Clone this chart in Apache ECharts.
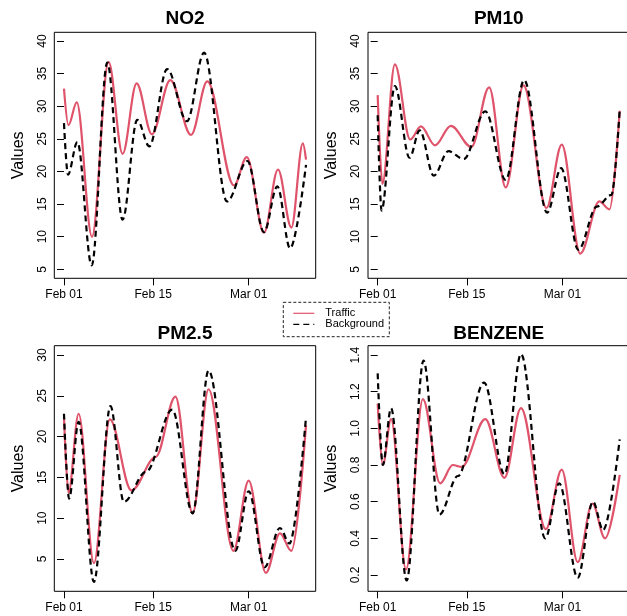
<!DOCTYPE html>
<html>
<head>
<meta charset="utf-8">
<script src="https://cdn.jsdelivr.net/npm/echarts@6/dist/echarts.min.js"></script>
<style>
  html, body { margin: 0; padding: 0; background: #fff; }
  #chart { width: 627px; height: 616px; }
</style>
</head>
<body>
<div id="chart"></div>
<script>
// panels and axes
const panels = ['NO2', 'PM10', 'PM2.5', 'BENZENE']
const xTickDays = [0, 14, 29]          // days since Feb 01
const xTickLabels = ['Feb 01', 'Feb 15', 'Mar 01']
const yTicksNO2 = [5, 10, 15, 20, 25, 30, 35, 40]
const yTicksPM10 = [5, 10, 15, 20, 25, 30, 35, 40]
const yTicksPM25 = [5, 10, 15, 20, 25, 30]
const yTicksBenzene = [0.2, 0.4, 0.6, 0.8, 1.0, 1.2, 1.4]

// NO2
const no2TrafficDays = [0, 0.7, 2.0, 4.4, 7.0, 9.2, 11.4, 13.8, 16.7, 19.95, 22.5, 26.7, 28.7, 31.4, 33.6, 35.7, 37.5, 38]
const no2TrafficVals = [32.7, 27.1, 30.6, 10.0, 36.8, 22.7, 33.5, 25.7, 34.0, 25.6, 33.8, 17.85, 22.2, 10.6, 20.3, 11.4, 24.3, 21.8]
const no2BackgroundDays = [0, 0.62, 2.1, 4.35, 6.8, 9.2, 11.5, 13.4, 16.2, 19.3, 22.0, 25.6, 28.8, 31.4, 33.5, 35.5, 38]
const no2BackgroundVals = [27.4, 19.5, 24.5, 5.6, 36.7, 12.6, 27.9, 23.85, 35.7, 27.7, 38.2, 15.4, 21.6, 10.7, 17.7, 8.2, 21.0]

// PM10
const pm10TrafficDays = [0, 0.73, 2.7, 5.1, 6.8, 9.0, 11.5, 14.7, 17.5, 20.1, 22.9, 26.5, 28.9, 31.8, 34.8, 36.4, 38]
const pm10TrafficVals = [31.7, 18.1, 36.4, 24.9, 26.9, 24.0, 27.0, 23.75, 32.9, 17.55, 33.2, 14.4, 24.1, 7.4, 15.4, 14.2, 29.3]
const pm10BackgroundDays = [0, 0.6, 2.7, 5.0, 6.6, 8.8, 11.1, 13.5, 16.9, 20.1, 23.0, 26.6, 28.8, 31.5, 34.4, 36.7, 38]
const pm10BackgroundVals = [28.6, 14.0, 33.1, 22.1, 26.3, 19.35, 23.1, 21.9, 29.2, 18.7, 34.0, 13.7, 20.5, 8.0, 14.6, 16.4, 29.5]

// PM2.5
const pm25TrafficDays = [0, 0.7, 2.3, 4.7, 7.2, 10.6, 14.4, 17.5, 20.2, 22.7, 26.6, 29.0, 31.7, 33.9, 35.7, 38]
const pm25TrafficVals = [22.4, 13.1, 22.8, 4.5, 22.1, 13.4, 17.5, 24.9, 10.6, 25.8, 6.0, 14.6, 3.3, 8.15, 6.0, 21.4]
const pm25BackgroundDays = [0, 0.8, 2.3, 4.7, 7.3, 9.4, 12.9, 17.0, 20.2, 22.7, 26.9, 29.0, 31.5, 33.9, 35.4, 38]
const pm25BackgroundVals = [22.8, 12.4, 21.8, 2.2, 23.75, 12.0, 15.7, 23.3, 10.6, 28.1, 6.0, 13.3, 4.0, 8.8, 6.9, 22.4]

// BENZENE
const benzeneTrafficDays = [0, 0.8, 2.1, 4.45, 7.1, 9.8, 11.8, 13.2, 16.9, 19.9, 22.5, 26.4, 28.9, 31.4, 33.7, 35.7, 38]
const benzeneTrafficVals = [1.135, 0.80, 1.05, 0.23, 1.16, 0.70, 0.80, 0.79, 1.05, 0.73, 1.11, 0.45, 0.775, 0.27, 0.59, 0.40, 0.746]
const benzeneBackgroundDays = [0, 0.8, 2.1, 4.55, 7.2, 9.7, 12.6, 16.7, 19.9, 22.5, 26.3, 28.5, 31.4, 33.8, 35.4, 38]
const benzeneBackgroundVals = [1.30, 0.80, 1.11, 0.17, 1.37, 0.53, 0.74, 1.25, 0.75, 1.405, 0.40, 0.70, 0.185, 0.60, 0.445, 0.94]

const traffic = [
  [no2TrafficDays, no2TrafficVals],
  [pm10TrafficDays, pm10TrafficVals],
  [pm25TrafficDays, pm25TrafficVals],
  [benzeneTrafficDays, benzeneTrafficVals]
]
const background = [
  [no2BackgroundDays, no2BackgroundVals],
  [pm10BackgroundDays, pm10BackgroundVals],
  [pm25BackgroundDays, pm25BackgroundVals],
  [benzeneBackgroundDays, benzeneBackgroundVals]
]
const yTicks = [yTicksNO2, yTicksPM10, yTicksPM25, yTicksBenzene]

// layout (R style 2x2)
const FONT = '"Liberation Sans", Arial, Helvetica, sans-serif'
const RED = '#DF536B'
const boxW = 261.4
const boxes = [
  { left: 54.3, top: 32.3, h: 246, yMin: 3.62, yMax: 41.33 },
  { left: 368, top: 32.3, h: 246, yMin: 3.62, yMax: 41.33 },
  { left: 54.3, top: 345.7, h: 245.6, yMin: 1.04, yMax: 31.14 },
  { left: 368, top: 345.7, h: 245.6, yMin: 0.111, yMax: 1.451 }
]

const pairs = (d) => d[0].map((x, i) => [x, d[1][i]])

const chart = echarts.init(document.getElementById('chart'), null, { renderer: 'canvas' })

const grid = boxes.map(b => ({
  left: b.left, top: b.top, width: boxW, height: b.h,
  show: true, borderColor: '#000', borderWidth: 1, backgroundColor: 'transparent',
  containLabel: false, outerBoundsMode: 'none'
}))

const xAxis = boxes.map((b, i) => ({
  type: 'value', gridIndex: i,
  min: -1.52, max: 39.52,
  axisLine: { show: false },
  splitLine: { show: false },
  axisTick: { show: true, inside: false, length: 7, customValues: xTickDays, lineStyle: { color: '#000', width: 1 } },
  axisLabel: {
    customValues: xTickDays, margin: 10, color: '#000', fontSize: 12, fontFamily: FONT,
    formatter: v => xTickLabels[xTickDays.indexOf(v)]
  }
}))

const yAxis = boxes.map((b, i) => ({
  type: 'value', gridIndex: i,
  min: b.yMin, max: b.yMax,
  name: 'Values', nameLocation: 'middle', nameGap: 28,
  nameTextStyle: { fontSize: 16, fontFamily: FONT, color: '#000' },
  axisLine: { show: false },
  splitLine: { show: false },
  axisTick: { show: true, inside: false, length: 7, customValues: yTicks[i], lineStyle: { color: '#000', width: 1 } },
  axisLabel: {
    customValues: yTicks[i], rotate: 90, margin: 6, color: '#000', fontSize: 12, fontFamily: FONT,
    formatter: v => (i === 3 ? v.toFixed(1) : String(v))
  }
}))

const series = []
panels.forEach((p, i) => {
  series.push({
    name: 'Traffic', type: 'line', xAxisIndex: i, yAxisIndex: i,
    data: pairs(traffic[i]),
    smooth: 0.35, smoothMonotone: 'x', symbol: 'none', showSymbol: false,
    lineStyle: { color: RED, width: 2.2, type: 'solid' },
    itemStyle: { color: RED },
    z: 2
  })
  series.push({
    name: 'Background', type: 'line', xAxisIndex: i, yAxisIndex: i,
    data: pairs(background[i]),
    smooth: 0.35, smoothMonotone: 'x', symbol: 'none', showSymbol: false,
    lineStyle: { color: '#000', width: 2.2, type: [6, 4] },
    itemStyle: { color: '#000' },
    z: 3
  })
})

const titles = panels.map((p, i) => ({
  type: 'text',
  x: boxes[i].left + boxW / 2,
  y: i < 2 ? 18.3 : 333.3,
  style: { text: p, fill: '#000', font: 'bold 19px ' + FONT, textAlign: 'center', textVerticalAlign: 'middle' }
}))

const option = {
  animation: false,
  backgroundColor: '#fff',
  grid, xAxis, yAxis, series,
  legend: {
    data: ['Traffic', 'Background'],
    orient: 'vertical',
    left: 283.3, top: 302.3,
    padding: [5.5, 4, 0, 9.4],
    itemWidth: 21, itemHeight: 11, itemGap: 0,
    selectedMode: false,
    itemStyle: { opacity: 0 },
    lineStyle: { width: 1.2 },
    textStyle: { fontSize: 11, fontFamily: FONT, color: '#000', padding: [0, 0, 0, 6] }
  },
  graphic: [
    {
      type: 'rect',
      shape: { x: 283.3, y: 302.3, width: 106, height: 34.4 },
      style: { fill: 'none', stroke: '#222', lineWidth: 1, lineDash: [3, 2] },
      z: 100
    },
    ...titles
  ]
}

chart.setOption(option)
</script>
</body>
</html>
